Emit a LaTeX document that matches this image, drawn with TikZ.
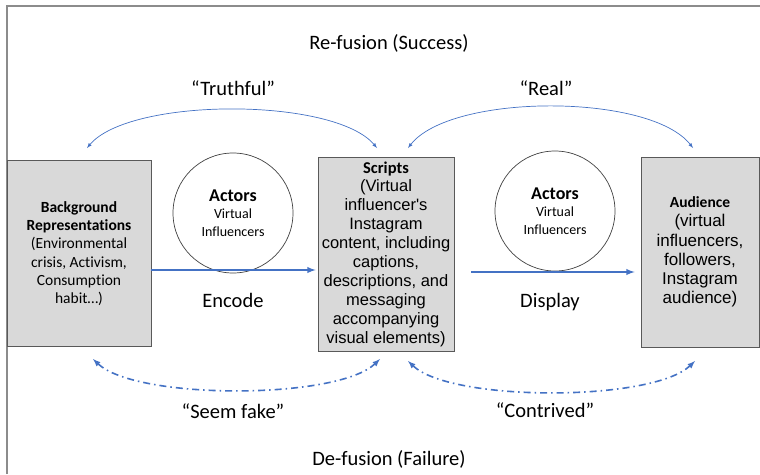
\documentclass[tikz,border=0pt]{standalone}
\usepackage{fontspec}
\setmainfont{Carlito}[Ligatures={TeX,NoCommon}]
\newfontfamily\arialfont{Liberation Sans}
\usetikzlibrary{calc}
\tikzset{>=latex}
\definecolor{linkblue}{RGB}{68,114,196}
\definecolor{boxgray}{RGB}{217,217,217}

\begin{document}
\begin{tikzpicture}[x=1pt,y=-1pt,
	framebox/.style={draw=black!65,fill=boxgray,line width=0.9pt,align=center,inner sep=2pt},
	actor/.style={circle,draw=black!75,line width=0.7pt,minimum size=120pt,align=center,inner sep=0pt,font=\fontsize{14}{17.5}\selectfont},
	bigtext/.style={font=\fontsize{20.5}{23}\selectfont},
	flow/.style={->,draw=linkblue,line width=1.8pt},
	fusion/.style={<->,draw=linkblue,line width=0.7pt},
	defusion/.style={<->,draw=linkblue,line width=1.6pt,dash pattern=on 7pt off 4pt on 1.5pt off 4pt}]

	\useasboundingbox (0,0) rectangle (760,474);
	\draw[black!45,line width=1.4pt] (7,474) -- (7,6) -- (760,6);

	% boxes
	\node[framebox,minimum width=144pt,minimum height=186pt,font=\fontsize{15.5}{18.3}\selectfont] (bg) at (79,253.5)
		{\textbf{Background}\\\textbf{Representations}\\(Environmental\\crisis, Activism,\\Consumption\\habit…)};
	\node[framebox,minimum width=136pt,minimum height=194pt,font=\arialfont\fontsize{16.5}{18.9}\selectfont] (scr) at (386,254)
		{\textrm{\textbf{Scripts}}\\(Virtual\\influencer's\\Instagram\\content, including\\captions,\\descriptions, and\\messaging\\accompanying\\visual elements)};
	\node[framebox,minimum width=118pt,minimum height=190pt,font=\arialfont\fontsize{17}{19.2}\selectfont] (aud) at (700,252)
		{\textrm{\fontsize{15.5}{19.2}\selectfont\textbf{Audience}}\\(virtual\\influencers,\\followers,\\Instagram\\audience)};

	\node[actor] (act1) at (233,213) {{\fontsize{18}{18}\selectfont\textbf{Actors}}\\Virtual\\Influencers};
	\node[actor] (act2) at (555,211) {{\fontsize{18}{18}\selectfont\textbf{Actors}}\\Virtual\\Influencers};

	% labels
	\node[bigtext] (refusion) at (389,43) {Re-fusion (Success)};
	\node[bigtext] (defusion) at (389,459) {De-fusion (Failure)};
	\node[bigtext] (truth) at (233,88) {“Truthful”};
	\node[bigtext] (real) at (546,88) {“Real”};
	\node[bigtext] (fake) at (233,411) {“Seem fake”};
	\node[bigtext] (contr) at (545,410) {“Contrived”};
	\node[bigtext] (enc) at (233,300) {Encode};
	\node[bigtext] (disp) at (550,302) {Display};

	% arc ends
	\coordinate (tl) at (87,148);
	\coordinate (tm1) at (377,148);
	\coordinate (tm2) at (408,148);
	\coordinate (tr) at (693,148);
	\coordinate (bl) at (93,359);
	\coordinate (bm1) at (380,359);
	\coordinate (bm2) at (408,361);
	\coordinate (br) at (695,361);

	\draw[flow,shorten >=2pt] ([yshift=-16.5pt]bg.east) -- ([yshift=-16pt]scr.west);
	\draw[flow,shorten <=17pt,shorten >=6pt] ([yshift=-18pt]scr.east) -- ([yshift=-20pt]aud.west);

	\draw[fusion] (tl) .. controls (130,97) and (334,97) .. (tm1);
	\draw[fusion] (tm2) .. controls (451,93) and (650,93) .. (tr);
	\draw[defusion] (bl) .. controls (136,400) and (337,400) .. (bm1);
	\draw[defusion] (bm2) .. controls (451,402) and (652,402) .. (br);
\end{tikzpicture}
\end{document}
